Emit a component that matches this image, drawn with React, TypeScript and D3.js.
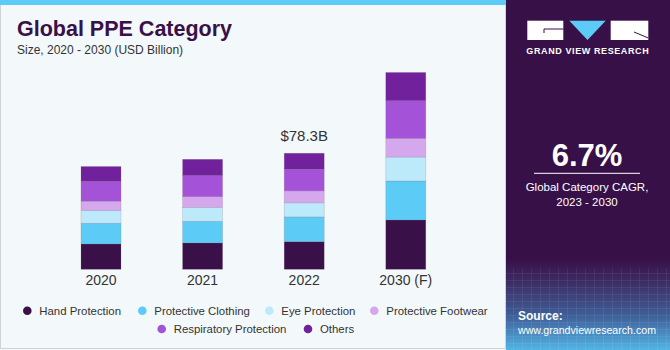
import React from 'react';
import * as d3 from 'd3';

// values in USD billion
const years = ['2020', '2021', '2022', '2030 (F)'];
const segments = ['Hand Protection', 'Protective Clothing', 'Eye Protection', 'Protective Footwear', 'Respiratory Protection', 'Others'];
const handProtection = [17.1, 17.8, 18.7, 33.3];
const protectiveClothing = [14.0, 14.6, 16.7, 26.3];
const eyeProtection = [8.6, 9.45, 9.45, 16.2];
const protectiveFootwear = [6.3, 7.2, 8.1, 12.6];
const respiratoryProtection = [13.3, 14.2, 14.6, 25.4];
const others = [10.1, 11.0, 10.8, 19.1];
const colors = ['#3a1048', '#5ccbf5', '#bdeafb', '#d5a8ee', '#a452d8', '#71219b'];
const highlightLabel = '$78.3B';
const highlightYear = '2022';

const W = 670;
const H = 350;
const FONT = '"Liberation Sans", Arial, sans-serif';

export default function App() {
  const series = [handProtection, protectiveClothing, eyeProtection, protectiveFootwear, respiratoryProtection, others];
  const table = years.map((y, i) => {
    const row: any = { year: y };
    segments.forEach((s, j) => { row[s] = series[j][i]; });
    return row;
  });
  const stacked = d3.stack().keys(segments)(table);

  const x = d3.scalePoint().domain(years).range([50.2, 456.6]).padding(0.5);
  const y = d3.scaleLinear().domain([0, 133]).range([269.3, 72.3]);
  const barW = 40;

  const totals = years.map((_, i) => d3.sum(series, s => s[i]));
  const hi = years.indexOf(highlightYear);

  const legendRows = [
    [{ i: 0, cx: 27.3 }, { i: 1, cx: 142.3 }, { i: 2, cx: 269.3 }, { i: 3, cx: 374.3 }],
    [{ i: 4, cx: 161.7 }, { i: 5, cx: 308 }],
  ];

  return (
    <svg width={W} height={H} style={{ position: 'absolute', left: 0, top: 0, fontFamily: FONT }}>
      <defs>
        <linearGradient id="panelGrad" x1="0" y1="0" x2="0" y2="1">
          <stop offset="0" stopColor="#381048" />
          <stop offset="0.74" stopColor="#381048" />
          <stop offset="0.8" stopColor="#3d2a62" />
          <stop offset="0.9" stopColor="#3f5d96" />
          <stop offset="1" stopColor="#52b4e6" />
        </linearGradient>
        <pattern id="grid" width="9" height="7" patternUnits="userSpaceOnUse">
          <path d="M9 0 L0 0 0 7" fill="none" stroke="#ffffff" strokeOpacity="0.18" strokeWidth="0.7" />
        </pattern>
      </defs>
      {/* chart panel */}
      <rect x={0} y={0} width={506} height={H} fill="#f3f8fb" />
      <rect x={0.5} y={0} width={505} height={H - 1.5} fill="none" stroke="#cfd3d6" strokeWidth={1} />
      <rect x={0} y={0} width={506} height={5} fill="#5ccbf5" />
      <text x={17} y={36} fontSize={21.5} fontWeight="bold" fill="#3a1048">Global PPE Category</text>
      <text x={17} y={54} fontSize={12} fill="#333">Size, 2020 - 2030 (USD Billion)</text>

      {stacked.map((layer, j) => (
        <g key={layer.key} fill={colors[j]}>
          {layer.map((d, i) => (
            <rect key={i} x={(x(years[i]) as number) - barW / 2} y={y(d[1])}
              width={barW} height={y(d[0]) - y(d[1])}
              stroke="#7a6a88" strokeOpacity={0.35} strokeWidth={0.6} />
          ))}
        </g>
      ))}

      {years.map(yr => (
        <text key={yr} x={x(yr)} y={285} textAnchor="middle" fontSize={14} fill="#333">{yr}</text>
      ))}
      <text x={x(highlightYear)} y={y(totals[hi]) - 12} textAnchor="middle" fontSize={15} fill="#333">{highlightLabel}</text>

      {legendRows.map((row, r) => row.map(it => (
        <g key={`${r}-${it.i}`}>
          <circle cx={it.cx} cy={r === 0 ? 310.7 : 329} r={4.3} fill={colors[it.i]} />
          <text x={it.cx + 12} y={(r === 0 ? 310.7 : 329) + 4.2} fontSize={11.4} fill="#333">{segments[it.i]}</text>
        </g>
      )))}

      {/* right panel */}
      <rect x={506} y={0} width={164} height={H} fill="url(#panelGrad)" />
      <rect x={506} y={268} width={164} height={82} fill="url(#grid)" />
      <rect x={527.3} y={20.7} width={36} height={19.3} fill="#fff" />
      <path d="M 544 29 L 563.3 29 M 544 29 L 544 33" stroke="#381048" strokeWidth={1} />
      <path d="M 569.3 20.7 L 605.7 20.7 L 587.5 40 Z" fill="#5ccbf5" />
      <rect x={610.7} y={20.7} width={37.6} height={19.3} fill="#fff" />
      <path d="M 634 32 L 648.3 38" stroke="#381048" strokeWidth={1} />
      <text x={587.8} y={54.3} textAnchor="middle" fontSize={9} fontWeight="bold" fill="#fff" letterSpacing={0.6}>GRAND VIEW RESEARCH</text>

      <text x={587} y={166} textAnchor="middle" fontSize={31} fontWeight="bold" fill="#fff">6.7%</text>
      <line x1={534} x2={640} y1={173.3} y2={173.3} stroke="#fff" strokeWidth={1} />
      <text x={587} y={190.5} textAnchor="middle" fontSize={11.5} fill="#fff">Global Category CAGR,</text>
      <text x={587} y={206} textAnchor="middle" fontSize={11.5} fill="#fff">2023 - 2030</text>

      <text x={518} y={320} fontSize={12} fontWeight="bold" fill="#fff">Source:</text>
      <text x={518} y={334} fontSize={11} fill="#fff" textLength={138} lengthAdjust="spacingAndGlyphs">www.grandviewresearch.com</text>
    </svg>
  );
}
